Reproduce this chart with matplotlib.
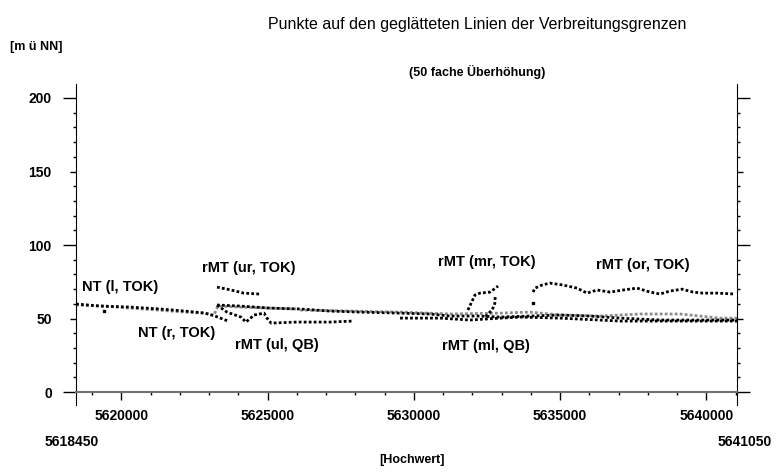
import matplotlib.pyplot as plt
from matplotlib.ticker import MultipleLocator

plt.rcParams['font.family'] = ['Liberation Sans', 'DejaVu Sans']

# Hochwert [m] and height [m ü NN]
nt_l_x = [5618450, 5619270, 5620300, 5621320, 5622180, 5622860, 5623200, 5623650]
nt_l_y = [59.9, 58.5, 57.8, 56.5, 55.1, 53.7, 51.7, 48.3]

nt_r_x = [5618450, 5619400, 5620300, 5621220, 5622140, 5622830, 5623170, 5623300,
          5624060, 5625080, 5625970]
nt_r_y = [59.2, 58.5, 57.1, 55.8, 54.4, 53.7, 52.4, 58.5, 57.8, 57.1, 56.5]

ur_x = [5623270, 5623750, 5624190, 5624710]
ur_y = [71.4, 69.4, 67.3, 66.7]

ul_x = [5623270, 5623610, 5624090, 5624260, 5624540, 5624880, 5624980, 5625120,
        5625970, 5627130, 5627920]
ul_y = [59.2, 54.4, 51.0, 47.6, 52.4, 53.7, 50.3, 46.9, 47.6, 47.6, 48.3]

band_x = [5623270, 5624060, 5625080, 5626110, 5627130, 5628160, 5629530, 5630550,
          5631240, 5632260, 5632950, 5633970, 5634998, 5636024, 5637050, 5638417,
          5639784, 5641050]
band_y = [59.2, 58.5, 57.1, 56.5, 55.1, 54.4, 53.7, 53.1, 51.7, 51.7, 51.0, 51.7,
          52.4, 51.7, 50.3, 49.0, 49.0, 49.0]

grey_x = [5626110, 5627820, 5629530, 5631240, 5632950, 5633970, 5634998, 5636366,
          5637734, 5639101, 5640468, 5641050]
grey_y = [55.8, 55.1, 54.4, 53.1, 53.7, 54.4, 52.4, 51.7, 53.1, 53.1, 50.3, 50.3]

ml_x = [5629530, 5630900, 5631920, 5632950, 5633630, 5634998, 5637050, 5639101, 5641050]
ml_y = [50.3, 50.3, 49.0, 50.3, 51.0, 50.3, 48.3, 48.3, 48.3]

mr_x = [5631850, 5632090, 5632260, 5632610, 5632880]
mr_y = [55.8, 66.0, 67.3, 68.0, 72.1]

mr_drop_x = [5632780, 5632780, 5632740, 5632670, 5632540, 5632400]
mr_drop_y = [64.6, 61.2, 58.5, 55.8, 53.1, 50.3]

or_x = [5634075, 5634143, 5634383, 5634656, 5635101, 5635580, 5635921, 5636263,
        5636708, 5637152, 5637631, 5638076, 5638417, 5638759, 5639169, 5639545,
        5639887, 5640366, 5640981]
or_y = [68.0, 70.7, 72.8, 74.1, 72.8, 70.7, 67.3, 69.4, 68.0, 69.4, 70.7, 68.0,
        66.7, 68.7, 70.0, 68.0, 67.3, 67.3, 66.7]

stray_x = [5619400, 5634075]
stray_y = [55.1, 60.5]

labels = ['NT (l, TOK)', 'rMT (ur, TOK)', 'NT (r, TOK)', 'rMT (ul, QB)',
          'rMT (mr, TOK)', 'rMT (ml, QB)', 'rMT (or, TOK)']
label_x = [5619954, 5624365, 5621903, 5625322, 5632502, 5632468, 5637836]
label_y = [71.4, 84.4, 40.1, 32.0, 88.4, 31.3, 86.4]

xticks = [5620000, 5625000, 5630000, 5635000, 5640000]
yticks = [0, 50, 100, 150, 200]

fig = plt.figure(figsize=(7.78, 4.72), dpi=100)
ax = fig.add_axes([0.0977, 0.1419, 0.8496, 0.6801])

dots = (0, (1, 0.8))
ax.plot(nt_r_x, nt_r_y, color='#8a8a8a', lw=2, ls=dots)
ax.plot(grey_x, grey_y, color='#8a8a8a', lw=2, ls=dots)
for xs, ys in [(nt_l_x, nt_l_y), (ur_x, ur_y), (ul_x, ul_y), (band_x, band_y),
               (ml_x, ml_y), (mr_x, mr_y), (mr_drop_x, mr_drop_y), (or_x, or_y)]:
    ax.plot(xs, ys, color='black', lw=2, ls=dots)
ax.plot(stray_x, stray_y, 's', color='black', ms=2)

for s, x, y in zip(labels, label_x, label_y):
    ax.text(x, y, s, ha='center', va='center', fontsize=10.5, fontweight='bold')

ax.set_xlim(5618450, 5641050)
ax.set_ylim(-8.8, 209.5)

ax.spines['top'].set_visible(False)
ax.spines['bottom'].set_position(('data', 0))
ax.spines['bottom'].set_color('#707070')
ax.spines['bottom'].set_linewidth(1.5)

ax.set_xticks(xticks)
ax.set_xticklabels([str(v) for v in xticks])
ax.xaxis.set_minor_locator(MultipleLocator(1000))
ax.tick_params(axis='x', which='major', length=6, width=1, direction='out', pad=6,
               labelsize=10)
ax.tick_params(axis='x', which='minor', length=2.5, width=1, direction='out')

ax.set_yticks(yticks)
ax.set_yticklabels([str(v) for v in yticks])
ax.yaxis.set_minor_locator(MultipleLocator(10))
ax.tick_params(axis='y', which='major', length=9.4, width=1, direction='out',
               left=True, right=True, pad=8, labelsize=10)
ax.tick_params(axis='y', which='minor', length=2, width=1, direction='out',
               left=True, right=True)
for t, v in zip(ax.yaxis.get_major_ticks(), yticks):
    if v in (50, 150):
        t.tick1line.set_markersize(4.3)
        t.tick2line.set_markersize(4.3)

for lab in ax.get_xticklabels() + ax.get_yticklabels():
    lab.set_fontweight('bold')

fig.text(477 / 778, 1 - 24 / 472, 'Punkte auf den geglätteten Linien der Verbreitungsgrenzen',
         ha='center', va='center', fontsize=11.5)
fig.text(10 / 778, 1 - 47 / 472, '[m ü NN]', ha='left', va='center', fontsize=9,
         fontweight='bold')
fig.text(477 / 778, 1 - 72 / 472, '(50 fache Überhöhung)', ha='center', va='center',
         fontsize=9, fontweight='bold')
fig.text(72 / 778, 1 - 442 / 472, '5618450', ha='center', va='center', fontsize=10,
         fontweight='bold')
fig.text(745 / 778, 1 - 442 / 472, '5641050', ha='center', va='center', fontsize=10,
         fontweight='bold')
fig.text(412 / 778, 1 - 460 / 472, '[Hochwert]', ha='center', va='center', fontsize=9,
         fontweight='bold')

fig.savefig('out.png', dpi=100)
